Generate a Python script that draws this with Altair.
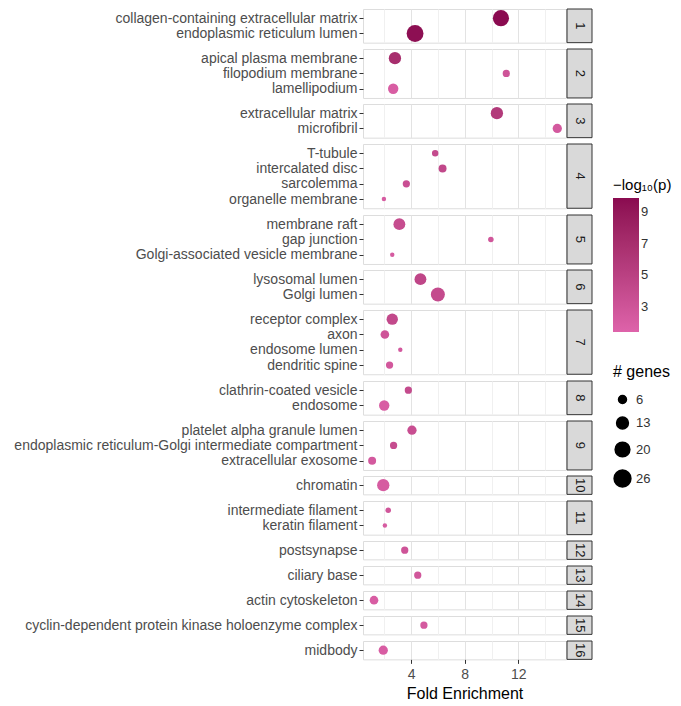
import altair as alt
import pandas as pd

groups = [1, 1, 2, 2, 2, 3, 3, 4, 4, 4, 4, 5, 5, 5, 6, 6, 7, 7, 7, 7, 8, 8,
          9, 9, 9, 10, 11, 11, 12, 13, 14, 15, 16]
terms = [
    "collagen-containing extracellular matrix", "endoplasmic reticulum lumen",
    "apical plasma membrane", "filopodium membrane", "lamellipodium",
    "extracellular matrix", "microfibril",
    "T-tubule", "intercalated disc", "sarcolemma", "organelle membrane",
    "membrane raft", "gap junction", "Golgi-associated vesicle membrane",
    "lysosomal lumen", "Golgi lumen",
    "receptor complex", "axon", "endosome lumen", "dendritic spine",
    "clathrin-coated vesicle", "endosome",
    "platelet alpha granule lumen", "endoplasmic reticulum-Golgi intermediate compartment", "extracellular exosome",
    "chromatin",
    "intermediate filament", "keratin filament",
    "postsynapse",
    "ciliary base",
    "actin cytoskeleton",
    "cyclin-dependent protein kinase holoenzyme complex",
    "midbody",
]
fold = [10.7, 4.3,
        2.8, 11.1, 2.67,
        10.4, 14.9,
        5.8, 6.35, 3.65, 1.98,
        3.13, 9.95, 2.6,
        4.7, 6.0,
        2.6, 2.05, 3.2, 2.4,
        3.8, 2.0,
        4.07, 2.7, 1.1,
        1.93,
        2.3, 2.05,
        3.53,
        4.5,
        1.24,
        4.96,
        1.93]
genes = [24, 26,
         14, 5, 10,
         14, 8,
         4, 6, 5, 2,
         13, 3, 2,
         13, 18,
         12, 7, 2, 5,
         5, 10,
         8, 5, 6,
         14,
         3, 2,
         5,
         5,
         7,
         5,
         8]
logp = [9.9, 9.6,
        7.0, 3.0, 2.0,
        5.8, 2.5,
        4.0, 4.3, 3.5, 2.2,
        3.8, 2.8, 2.3,
        4.5, 4.0,
        4.2, 3.0, 2.5, 2.6,
        4.0, 2.0,
        3.6, 3.8, 2.5,
        2.2,
        2.8, 2.2,
        3.0,
        2.7,
        2.0,
        2.4,
        2.0]

df = pd.DataFrame({"group": groups, "term": terms, "fold": fold,
                   "genes": genes, "logp": logp})

FONT = "Liberation Sans"
W = 203
STEP = 15.3
STRIP = 25

color_scale = alt.Scale(domain=[1.4, 9.9], range=["#DE63AA", "#8A0A50"])
size_scale = alt.Scale(domain=[2, 26], range=[19.6, 283.5])

grid_color = {"condition": {"test": "datum.value % 4 === 0", "value": "#e3e3e3"},
              "value": "#f0f0f0"}
tick_op = {"condition": {"test": "datum.value % 4 === 0", "value": 1}, "value": 0}

group_ids = list(dict.fromkeys(groups))
panels = []
for i, g in enumerate(group_ids):
    sub = df[df["group"] == g]
    n = len(sub)
    h = (n + 0.2) * STEP
    last = i == len(group_ids) - 1
    if last:
        xaxis = alt.Axis(values=[2, 4, 6, 8, 10, 12, 14], title="Fold Enrichment",
                         labelExpr="datum.value % 4 === 0 ? datum.label : ''",
                         gridColor=grid_color, tickOpacity=tick_op,
                         tickColor="#333333", tickSize=4, domain=False,
                         labelFontSize=14, labelColor="#4d4d4d", labelFont=FONT,
                         titleFontSize=16, titleFontWeight="normal", titleFont=FONT,
                         titleColor="#000000", titlePadding=4, labelPadding=4)
    else:
        xaxis = alt.Axis(values=[2, 4, 6, 8, 10, 12, 14], title=None,
                         labels=False, ticks=False, domain=False, tickSize=0,
                         labelPadding=0, minExtent=0, maxExtent=0, offset=0,
                         gridColor=grid_color)
    yaxis = alt.Axis(title=None, labelFontSize=14, labelColor="#4d4d4d",
                     labelFont=FONT, tickColor="#333333", tickSize=4,
                     domain=False, gridColor="#e3e3e3", labelPadding=2,
                     labelLimit=400)
    pts = alt.Chart(sub).mark_circle(opacity=1).encode(
        x=alt.X("fold:Q", scale=alt.Scale(domain=[0.42, 15.55], nice=False, zero=False),
                axis=xaxis),
        y=alt.Y("term:N", sort=list(sub["term"]),
                scale=alt.Scale(type="point", padding=0.6), axis=yaxis),
        size=alt.Size("genes:Q", scale=size_scale,
                      legend=alt.Legend(title="# genes", values=[6, 13, 20, 26],
                                        orient="none", legendX=250, legendY=355,
                                        symbolFillColor="#000000",
                                        symbolStrokeColor="#000000",
                                        symbolType="circle", rowPadding=7,
                                        titleFontSize=16, titleFontWeight="normal",
                                        titleFont=FONT, labelFont=FONT,
                                        labelFontSize=13, labelColor="#333333",
                                        titleColor="#000000", titlePadding=13)),
        color=alt.Color("logp:Q", scale=color_scale,
                        legend=alt.Legend(title="\u2212log\u2081\u2080(p)", values=[3, 5, 7, 9],
                                          orient="none", legendX=250, legendY=169,
                                          gradientLength=134, gradientThickness=26,
                                          titleFontSize=15, titleFontWeight="normal",
                                          titleFont=FONT, labelFont=FONT,
                                          labelFontSize=13, labelColor="#333333",
                                          titleColor="#000000", titlePadding=5,
                                          gradientStrokeWidth=0)),
    )
    sdf = pd.DataFrame({"g": [str(g)]})
    strip_rect = alt.Chart(sdf).mark_rect(fill="#d9d9d9", stroke="#333333",
                                          strokeWidth=1).encode(
        x=alt.value(W + 1), x2=alt.value(W + 1 + STRIP), y=alt.value(0), y2=alt.value(h))
    strip_txt = alt.Chart(sdf).mark_text(angle=90, fontSize=13, font=FONT,
                                         color="#1a1a1a").encode(
        x=alt.value(W + 1 + STRIP / 2), y=alt.value(h / 2), text="g:N")
    panels.append(alt.layer(pts, strip_rect, strip_txt).properties(width=W, height=h))

chart = alt.vconcat(*panels, spacing=4).resolve_scale(
    color="shared", size="shared"
).configure_view(stroke="#333333", strokeWidth=1).configure(
    padding={"left": 5, "top": 0, "right": 0, "bottom": 0})

chart.save("out.html", embed_options={"renderer": "svg", "actions": False})
